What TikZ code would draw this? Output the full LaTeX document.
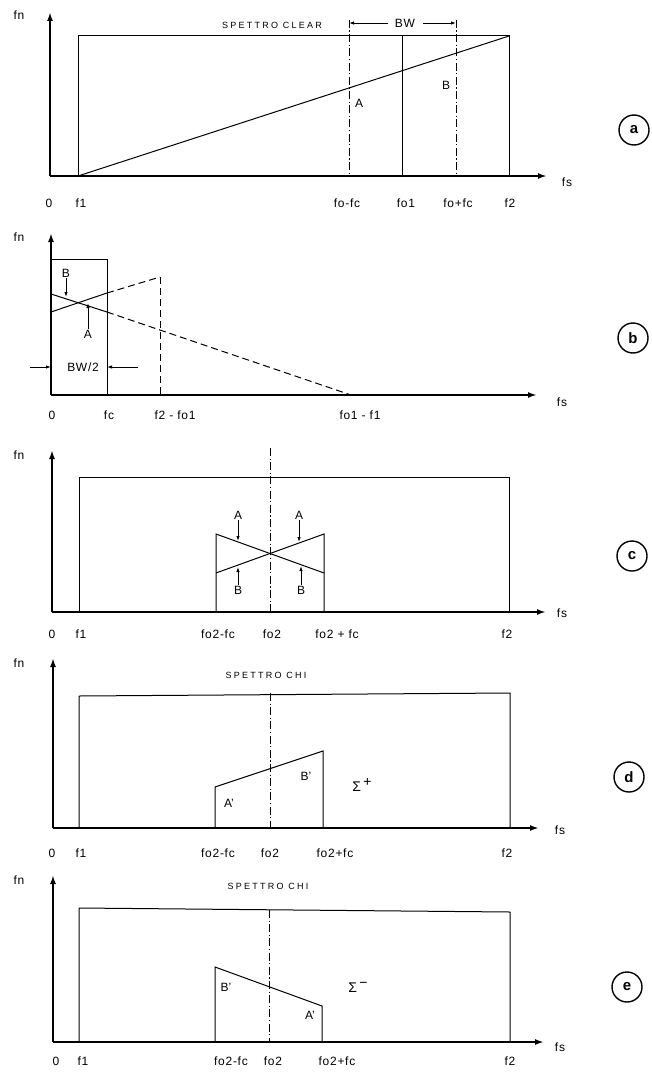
\documentclass[tikz,border=0pt]{standalone}
\usepackage{fontspec}
\setmainfont{Liberation Sans}
\usetikzlibrary{arrows.meta}
\begin{document}
\begin{tikzpicture}[x=1pt,y=-1pt,
  axis/.style={line width=1.8pt,-{Latex[length=9pt,width=6pt]}},
  ln/.style={line width=1pt},
  dd/.style={line width=0.9pt,dash pattern=on 8pt off 2.5pt on 1.2pt off 2.5pt},
  dsh/.style={line width=1pt,dash pattern=on 7pt off 4pt},
  mk/.style={line width=0.9pt,-{Latex[length=5pt,width=3.5pt]}},
  lbl/.style={inner sep=1pt,font=\fontsize{12}{12}\selectfont\addfontfeature{LetterSpace=6}},
  ab/.style={inner sep=1pt,font=\fontsize{12}{12}\selectfont},
  ttl/.style={inner sep=1pt,font=\fontsize{9}{9}\selectfont\addfontfeature{LetterSpace=25}},
  tag/.style={circle,draw,line width=1.4pt,minimum size=30pt,inner sep=0pt,font=\fontsize{15}{15}\selectfont\bfseries}
]
\useasboundingbox (0,0) rectangle (652,1073);

% ---------------- panel a ----------------
\coordinate (aO) at (50,176);
\coordinate (aY) at (50,12);
\coordinate (aX) at (547,176);
\draw[axis] (aO) -- (aY);
\draw[axis] (aO) -- (aX);
\node[lbl] (a-fn) at (19,15) {fn};
\node[lbl] (a-fs) at (567,182) {fs};
\coordinate (a1) at (78,176);
\coordinate (a1t) at (78,36);
\coordinate (a2t) at (509,36);
\coordinate (a2) at (509,176);
\draw[ln] (a1) -- (a1t) -- (a2t) -- (a2);
\draw[ln] (a1) -- (a2t);
\draw[ln] (402,36) -- (402,176);
\coordinate (aLt) at (349,20);
\coordinate (aRt) at (456,20);
\draw[dd] (aLt) -- (349,176);
\draw[dd] (aRt) -- (456,176);
\node[ttl] (a-title) at (272,25) {SPETTRO CLEAR};
\node[lbl] (a-bw) at (405,23) {BW};
\draw[mk] (388,23) -- (349,23);
\draw[mk] (423,23) -- (456,23);
\node[ab] (a-A) at (359,103) {A};
\node[ab] (a-B) at (446,85) {B};
\node[lbl] (a-l0) at (49,203) {0};
\node[lbl] (a-l1) at (81,203) {f1};
\node[lbl] (a-l2) at (347,203) {fo-fc};
\node[lbl] (a-l3) at (406,203) {fo1};
\node[lbl] (a-l4) at (458,203) {fo+fc};
\node[lbl] (a-l5) at (510,203) {f2};
\node[tag] (a-tag) at (634,130) {a};

% ---------------- panel b ----------------
\coordinate (bO) at (51,395);
\draw[axis] (bO) -- (51,233);
\draw[axis] (bO) -- (537,395);
\node[lbl] (b-fn) at (19,237) {fn};
\node[lbl] (b-fs) at (562,402) {fs};
\draw[ln] (51,259) -- (107,259) -- (107,395);
\draw[dsh] (160,277) -- (160,395);
\coordinate (bR1) at (51,312);
\coordinate (bR2) at (107,293);
\coordinate (bR3) at (160,277);
\coordinate (bF1) at (51,294);
\coordinate (bF2) at (107,312);
\coordinate (bF3) at (351,395);
\draw[ln] (bR1) -- (bR2);
\draw[dsh] (bR2) -- (bR3);
\draw[ln] (bF1) -- (bF2);
\draw[dsh] (bF2) -- (bF3);
\node[ab] (b-B) at (66,273) {B};
\draw[mk] (b-B.south) -- (66,297);
\node[ab] (b-A) at (88,334) {A};
\draw[mk] (b-A.north) -- (88,303);
\node[lbl] (b-bw) at (83,367) {BW/2};
\draw[mk] (30,367) -- (51,367);
\draw[mk] (138,367) -- (107,367);
\node[lbl] (b-l0) at (52,415) {0};
\node[lbl] (b-l1) at (109,415) {fc};
\node[lbl] (b-l2) at (175,415) {f2 - fo1};
\node[lbl] (b-l3) at (360,415) {fo1 - f1};
\node[tag] (b-tag) at (633,338) {b};

% ---------------- panel c ----------------
\coordinate (cO) at (52,612);
\draw[axis] (cO) -- (52,450);
\draw[axis] (cO) -- (546,612);
\node[lbl] (c-fn) at (19,455) {fn};
\node[lbl] (c-fs) at (562,613) {fs};
\draw[ln] (79,612) -- (79,477) -- (509,477) -- (509,612);
\draw[dd] (270,448) -- (270,612);
\coordinate (cL1) at (216,534);
\coordinate (cL2) at (216,573);
\coordinate (cR1) at (324,534);
\coordinate (cR2) at (324,573);
\draw[ln] (216,612) -- (cL1) -- (cR2);
\draw[ln] (cL2) -- (cR1) -- (324,612);
\node[ab] (c-A1) at (238,515) {A};
\draw[mk] (c-A1.south) -- (238,541);
\node[ab] (c-A2) at (299,515) {A};
\draw[mk] (c-A2.south) -- (299,542);
\node[ab] (c-B1) at (238,590) {B};
\draw[mk] (c-B1.north) -- (238,567);
\node[ab] (c-B2) at (301,590) {B};
\draw[mk] (c-B2.north) -- (301,566);
\node[lbl] (c-l0) at (52,634) {0};
\node[lbl] (c-l1) at (81,634) {f1};
\node[lbl] (c-l2) at (218,634) {fo2-fc};
\node[lbl] (c-l3) at (272,634) {fo2};
\node[lbl] (c-l4) at (337,634) {fo2 + fc};
\node[lbl] (c-l5) at (507,634) {f2};
\node[tag] (c-tag) at (632,556) {c};

% ---------------- panel d ----------------
\coordinate (dO) at (53,828);
\draw[axis] (dO) -- (53,658);
\draw[axis] (dO) -- (539,828);
\node[lbl] (d-fn) at (19,663) {fn};
\node[lbl] (d-fs) at (560,830) {fs};
\draw[ln] (79,828) -- (79,696) -- (510,693) -- (510,828);
\node[ttl] (d-title) at (266,675) {SPETTRO CHI};
\draw[dd] (270,693) -- (270,828);
\coordinate (dA) at (215,787);
\coordinate (dB) at (323,751);
\draw[ln] (215,828) -- (dA) -- (dB) -- (323,828);
\node[ab] (d-A) at (229,803) {A'};
\node[ab] (d-B) at (306,776) {B'};
\node[ab,font=\fontsize{14}{14}\selectfont] (d-S) at (362,785) {Σ\,\raisebox{5pt}{+}};
\node[lbl] (d-l0) at (52,853) {0};
\node[lbl] (d-l1) at (81,853) {f1};
\node[lbl] (d-l2) at (218,853) {fo2-fc};
\node[lbl] (d-l3) at (270,853) {fo2};
\node[lbl] (d-l4) at (335,853) {fo2+fc};
\node[lbl] (d-l5) at (507,853) {f2};
\node[tag] (d-tag) at (629,777) {d};

% ---------------- panel e ----------------
\coordinate (eO) at (53,1042);
\draw[axis] (eO) -- (53,875);
\draw[axis] (eO) -- (544,1042);
\node[lbl] (e-fn) at (19,880) {fn};
\node[lbl] (e-fs) at (560,1047) {fs};
\draw[ln] (79,1042) -- (79,908) -- (510,912) -- (510,1042);
\node[ttl] (e-title) at (268,886) {SPETTRO CHI};
\draw[dd] (269,910) -- (269,1042);
\coordinate (eB) at (215,967);
\coordinate (eA) at (322,1006);
\draw[ln] (215,1042) -- (eB) -- (eA) -- (322,1042);
\node[ab] (e-B) at (226,987) {B'};
\node[ab] (e-A) at (310,1015) {A'};
\node[ab,font=\fontsize{14}{14}\selectfont] (e-S) at (358,987) {Σ\,\raisebox{5pt}{−}};
\node[lbl] (e-l0) at (56,1061) {0};
\node[lbl] (e-l1) at (83,1061) {f1};
\node[lbl] (e-l2) at (231,1061) {fo2-fc};
\node[lbl] (e-l3) at (273,1061) {fo2};
\node[lbl] (e-l4) at (337,1061) {fo2+fc};
\node[lbl] (e-l5) at (510,1061) {f2};
\node[tag] (e-tag) at (627,987) {e};
\end{tikzpicture}
\end{document}
